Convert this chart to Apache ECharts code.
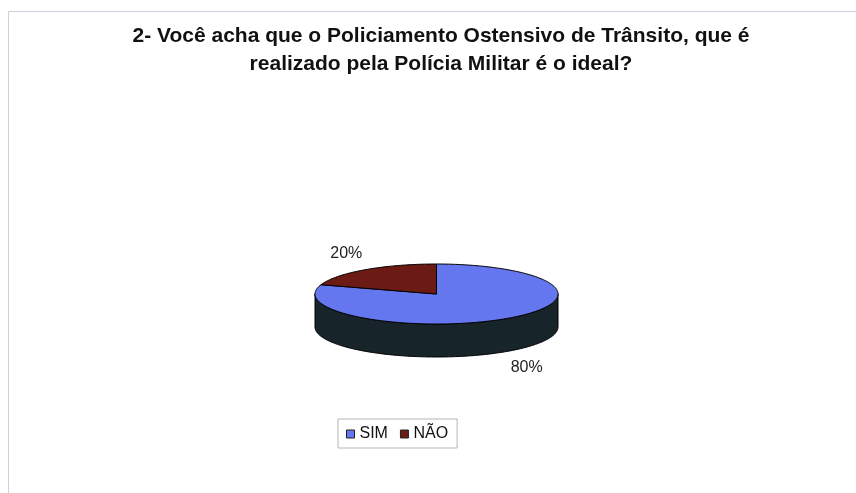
<!DOCTYPE html>
<html>
<head>
<meta charset="utf-8">
<script src="https://cdn.jsdelivr.net/npm/echarts@6/dist/echarts.min.js"></script>
<style>
  html, body { margin: 0; padding: 0; background: #ffffff; }
  #chart { width: 856px; height: 493px; }
</style>
</head>
<body>
<div id="chart"></div>
<script>
// Survey answers
const categories = ['SIM', 'NÃO'];
const values = [80, 20];
const percentLabels = ['80%', '20%'];

// Face colours: top surface and side wall of each slice
const topColors = ['#6577ee', '#6b1a14'];
const sideColors = ['#17252b', '#3a0e0a'];

const FONT = '"Liberation Sans", Arial, sans-serif';

// Cumulative fractions -> [start, end] per slice
const total = values.reduce((a, b) => a + b, 0);
const ranges = [];
let acc = 0;
values.forEach(v => {
  ranges.push([acc / total, (acc + v) / total]);
  acc += v;
});

// 3D pie geometry (top ellipse + wall depth)
const PIE = { cx: 436.5, cy: 294, rx: 121.5, ry: 30, depth: 33 };

function pt(t, dy) {
  return [PIE.cx + PIE.rx * Math.cos(t), PIE.cy - PIE.ry * Math.sin(t) + (dy || 0)];
}

// Angle for a fraction: starts at 12 o'clock, clockwise
function angleOf(f) { return Math.PI / 2 - 2 * Math.PI * f; }

function arc(t1, t2, dy) {
  const pts = [];
  const n = Math.max(2, Math.ceil(Math.abs(t2 - t1) / 0.02));
  for (let i = 0; i <= n; i++) pts.push(pt(t1 + (t2 - t1) * i / n, dy));
  return pts;
}

function renderSlice(params, api) {
  const idx = params.seriesIndex;
  const s = api.value(0), e = api.value(1);
  const tHi = angleOf(s), tLo = angleOf(e);
  const children = [];

  // front wall: only the lower half of the ellipse is visible
  for (let k = -2; k <= 1; k++) {
    const a = Math.max(tLo, Math.PI + 2 * Math.PI * k);
    const b = Math.min(tHi, 2 * Math.PI + 2 * Math.PI * k);
    if (b > a) {
      const top = arc(a, b, 0);
      const bottom = arc(b, a, PIE.depth);
      children.push({
        type: 'polygon',
        z2: 1,
        shape: { points: top.concat(bottom) },
        style: { fill: sideColors[idx], stroke: '#000', lineWidth: 1 }
      });
    }
  }

  // top face
  children.push({
    type: 'polygon',
    z2: 5,
    shape: { points: [[PIE.cx, PIE.cy]].concat(arc(tHi, tLo, 0)) },
    style: { fill: topColors[idx], stroke: '#000', lineWidth: 1 }
  });

  // percentage label outside the slice
  const tm = (tHi + tLo) / 2;
  const sn = Math.sin(tm);
  children.push({
    type: 'text',
    z2: 10,
    x: PIE.cx + (PIE.rx + 32) * Math.cos(tm),
    y: PIE.cy - (PIE.ry + 20) * sn + (sn < 0 ? PIE.depth : 0),
    style: {
      text: percentLabels[idx],
      fill: '#222',
      font: '16px ' + FONT,
      align: 'center',
      verticalAlign: 'middle'
    }
  });

  return { type: 'group', children: children };
}

const chart = echarts.init(document.getElementById('chart'), null, { renderer: 'canvas' });

chart.setOption({
  animation: false,
  backgroundColor: '#ffffff',
  title: {
    text: '2- Você acha que o Policiamento Ostensivo de Trânsito, que é\nrealizado pela Polícia Militar é o ideal?',
    left: 441,
    top: 22,
    textAlign: 'center',
    padding: 0,
    textStyle: {
      fontFamily: FONT,
      fontSize: 21,
      fontWeight: 'bold',
      color: '#111',
      lineHeight: 28,
      align: 'center'
    }
  },
  legend: {
    data: categories,
    left: 338,
    top: 419,
    orient: 'horizontal',
    icon: 'rect',
    itemWidth: 8,
    itemHeight: 8,
    itemGap: 12,
    padding: [7, 9, 6, 8],
    borderColor: '#b5b5b5',
    borderWidth: 1,
    itemStyle: { borderColor: '#222', borderWidth: 1 },
    textStyle: { fontFamily: FONT, fontSize: 16, color: '#111' }
  },
  graphic: [{
    type: 'rect',
    silent: true,
    shape: { x: 8.5, y: 11.5, width: 900, height: 600 },
    style: { fill: 'none', stroke: '#cbd0dc', lineWidth: 1 }
  }],
  series: categories.map((name, i) => ({
    type: 'custom',
    name: name,
    coordinateSystem: 'none',
    itemStyle: { color: topColors[i] },
    renderItem: renderSlice,
    data: [ranges[i]]
  }))
});
</script>
</body>
</html>
